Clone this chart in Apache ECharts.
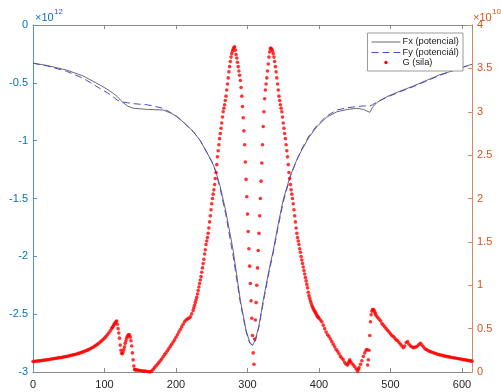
<!DOCTYPE html>
<html>
<head>
<meta charset="utf-8">
<script src="https://cdn.jsdelivr.net/npm/echarts@6/dist/echarts.min.js"></script>
<style>
  html, body { margin: 0; padding: 0; background: #fff; }
  #chart { width: 501px; height: 392px; }
</style>
</head>
<body>
<div id="chart"></div>
<script>
// Potentials Fx, Fy (left axis, x 1e12) and force G (right axis, x 1e10)

const xMax = 614;

// Fx (potencial) — [x, value in 1e12]
const fxPoints = [
  [0,-0.33],[20,-0.35],[47,-0.39],[70,-0.44],[94,-0.52],[105,-0.56],[112,-0.59],[118,-0.62],
  [124,-0.66],[132,-0.70],[140,-0.72],[160,-0.73],[182,-0.735],[192,-0.76],[201,-0.79],[212,-0.85],
  [224,-0.92],[234,-1.0],[243,-1.10],[250,-1.18],[255,-1.25],[262,-1.40],[270,-1.62],[280,-1.95],
  [290,-2.38],[298,-2.64],[303,-2.74],[307,-2.77],[311,-2.72],[316,-2.6],[322,-2.38],[330,-2.12],
  [336,-1.95],[343,-1.72],[350,-1.51],[360,-1.3],[368,-1.18],[376,-1.08],[386,-0.97],[397,-0.88],
  [410,-0.80],[425,-0.75],[440,-0.73],[453,-0.72],[462,-0.73],[471,-0.755],[475,-0.71],[481,-0.67],
  [495,-0.62],[510,-0.58],[531,-0.53],[550,-0.48],[569,-0.43],[590,-0.39],[611,-0.345],[614,-0.34]
];

// Fy (potenciál) — [x, value in 1e12]
const fyPoints = [
  [0,-0.33],[20,-0.355],[47,-0.40],[70,-0.46],[94,-0.55],[105,-0.59],[112,-0.62],[118,-0.65],
  [124,-0.665],[132,-0.672],[140,-0.68],[160,-0.69],[182,-0.72],[192,-0.755],[201,-0.79],[212,-0.85],
  [224,-0.92],[234,-1.0],[243,-1.10],[250,-1.18],[255,-1.26],[262,-1.42],[270,-1.65],[280,-2.0],
  [290,-2.40],[298,-2.65],[303,-2.75],[307,-2.77],[311,-2.73],[316,-2.61],[322,-2.40],[330,-2.14],
  [336,-1.97],[343,-1.74],[350,-1.53],[360,-1.31],[368,-1.18],[376,-1.07],[386,-0.96],[397,-0.87],
  [410,-0.79],[425,-0.735],[440,-0.715],[453,-0.705],[462,-0.70],[471,-0.70],[475,-0.69],[481,-0.665],
  [495,-0.625],[510,-0.585],[531,-0.535],[550,-0.485],[569,-0.435],[590,-0.39],[611,-0.345],[614,-0.34]
];

// G (sila) — [x, value in 1e10]
const gLeftTail = [
  [0,.120],[2,.122],[4,.124],[6,.126],[8,.128],[10,.130],[12,.132],[14,.134],[16,.137],[18,.139],
  [20,.142],[22,.144],[24,.147],[26,.150],[28,.152],[30,.155],[32,.158],[34,.160],[36,.163],[38,.165],
  [40,.168],[42,.171],[44,.175],[46,.178],[48,.181],[50,.185],[52,.189],[54,.193],[56,.197],[58,.201],
  [60,.205],[62,.210],[64,.215],[66,.220],[68,.226],[70,.232],[72,.238],[74,.245],[76,.252],[78,.260],
  [80,.268],[82,.277],[84,.286],[86,.296],[88,.307],[90,.318],[92,.331],[94,.345],[96,.359],[98,.374],
  [100,.390],[102,.408],[104,.428],[106,.450],[108,.474],[110,.500]
];
const gFirstBumps = [
  [111,.513],[112,.527],[113,.541],[114,.555],[115,.568],[116,.580],[117,.588],[118,.55],[119,.50],
  [120,.45],[121,.39],[122,.31],[123,.25],[124,.215],[125,.21],[126,.23],[127,.26],[128,.29],[129,.33],
  [130,.36],[131,.39],[132,.41],[133,.425],[134,.43],[135,.425],[136,.40],[137,.36],[138,.30],[139,.22],
  [140,.14],[141,.07],[142,.03],[143,.025]
];
const gLowRise = [
  [144,.024],[146,.022],[148,.020],[150,.018],[152,.015],[154,.012],[156,.010],[158,.008],[160,.005],
  [162,.003],[164,.002],[166,.010],[168,.030],[170,.050],[172,.070],[174,.090],[176,.110],[178,.130],
  [180,.150],[182,.175],[184,.200],[186,.220],[188,.245],[190,.270],[192,.295],[194,.320],[196,.345],
  [198,.370],[200,.400],[202,.430],[204,.460],[206,.490],[208,.520],[210,.550],[212,.580],[214,.600],
  [216,.610],[218,.620],[220,.635],[222,.670],[224,.710]
];
const gCentralPeaks = [
  [225,.74],[226,.77],[227,.80],[228,.83],[229,.86],[230,.90],[231,.94],[232,.98],[233,1.02],[234,1.06],
  [235,1.10],[236,1.15],[237,1.20],[238,1.25],[239,1.30],[240,1.36],[241,1.41],[242,1.47],[243,1.51],
  [244,1.55],[245,1.60],[246,1.66],[247,1.73],[248,1.80],[249,1.87],[250,1.94],[251,2.00],[252,2.05],
  [253,2.10],[254,2.16],[255,2.23],[256,2.30],[257,2.39],[258,2.48],[259,2.55],[260,2.62],[261,2.69],
  [262,2.75],[263,2.81],[264,2.87],[265,2.94],[266,3.00],[267,3.04],[268,3.08],[269,3.13],[270,3.18],
  [271,3.25],[272,3.32],[273,3.39],[274,3.46],[275,3.52],[276,3.58],[277,3.63],[278,3.67],[279,3.70],
  [280,3.72],[281,3.74],[282,3.75],[283,3.71],[284,3.66],[285,3.62],[286,3.57],[287,3.52],[288,3.47],
  [289,3.42],[290,3.36],[291,3.28],[292,3.18],[293,3.06],[294,2.93],[295,2.78],[296,2.62],[297,2.42],
  [298,2.22],[299,2.02],[300,1.82],[301,1.62],[302,1.42],[303,1.22],[304,1.02],[305,0.82],[306,0.62],
  [307,0.42],[308,0.22],[309,0.09],[310,0.38],[311,0.60],[312,0.80],[313,1.00],[314,1.20],[315,1.40],
  [316,1.60],[317,1.80],[318,2.00],[319,2.20],[320,2.41],[321,2.62],[322,2.83],[323,3.00],[324,3.15],
  [325,3.25],[326,3.32],[327,3.39],[328,3.47],[329,3.55],[330,3.63],[331,3.69],[332,3.73],[333,3.73]
];
const gRightFall = [
  [334,3.72],[335,3.70],[336,3.67],[337,3.63],[338,3.58],[339,3.52],[340,3.46],[341,3.39],[342,3.32],
  [343,3.25],[344,3.18],[345,3.13],[346,3.08],[347,3.04],[348,3.00],[349,2.94],[350,2.87],[351,2.81],
  [352,2.75],[353,2.69],[354,2.62],[355,2.55],[356,2.48],[357,2.39],[358,2.30],[359,2.23],[360,2.16],
  [361,2.10],[362,2.05],[363,2.00],[364,1.94],[365,1.87],[366,1.80],[367,1.73],[368,1.66],[369,1.60],
  [370,1.55],[371,1.51],[372,1.47],[373,1.42],[374,1.38],[375,1.33],[376,1.29],[377,1.25],[378,1.21],
  [379,1.17],[380,1.13],[381,1.09],[382,1.05],[383,1.01],[384,0.97],[385,0.92],[386,0.88],[387,0.85],
  [388,0.82],[389,0.795],[390,0.77],[391,0.75],[392,0.73],[393,0.715],[394,0.70],[395,0.685],[396,0.67],
  [397,0.655],[398,0.64],[399,0.63],[400,0.62]
];
const gRightBump = [
  [402,.60],[404,.58],[406,.54],[408,.50],[410,.46],[412,.43],[414,.41],[416,.38],[418,.35],[420,.32],
  [422,.29],[424,.26],[426,.24],[428,.21],[430,.18],[432,.16],[434,.14],[436,.11],[438,.09],[440,.08],
  [441,.10],[442,.12],[443,.14],[444,.12],[446,.10],[448,.08],[450,.06],[452,.035],[454,.01],[455,.03],
  [456,.05],[458,.09],[460,.13],[462,.18],[464,.22],[466,.25],[467,.26],[468,.08],[469,.14],[470,.25],
  [471,.42],[472,.58],[473,.66],[474,.70],[475,.72],[476,.72],[477,.71],[478,.69],[479,.67],[480,.65]
];
const gRightTail = [
  [482,.63],[484,.61],[486,.59],[488,.56],[490,.54],[492,.52],[494,.50],[496,.48],[498,.46],[500,.44],
  [502,.42],[504,.41],[506,.39],[508,.37],[510,.36],[512,.34],[514,.32],[516,.30],[518,.28],[520,.30],
  [522,.34],[524,.35],[526,.32],[528,.30],[530,.29],[532,.28],[534,.285],[536,.29],[538,.30],[540,.32],
  [542,.33],[544,.31],[546,.29],[548,.27],[550,.26],[552,.25],[554,.24],[556,.235],[558,.228],[560,.222],
  [562,.216],[564,.21],[566,.205],[568,.20],[570,.196],[572,.192],[574,.188],[576,.184],[578,.18],
  [580,.177],[582,.174],[584,.17],[586,.167],[588,.164],[590,.161],[592,.158],[594,.155],[596,.152],
  [598,.149],[600,.146],[602,.143],[604,.14],[606,.137],[608,.134],[610,.131],[612,.128],[614,.125]
];

const gPoints = [].concat(gLeftTail, gFirstBumps, gLowRise, gCentralPeaks, gRightFall, gRightBump, gRightTail);

const legendNames = ['Fx (potencial)', 'Fy (potenciál)', 'G (sila)'];

const FONT = 'Liberation Sans, Arial, Helvetica, sans-serif';
const BLUE = '#0072BD';
const ORANGE = '#D95319';
const FX_COLOR = '#6b6b6b';
const FY_COLOR = '#4a4ad6';
const G_COLOR = '#ff0000';

const chart = echarts.init(document.getElementById('chart'), null, { renderer: 'canvas' });

const G = { left: 33, right: 29, top: 25, bottom: 20 };
const legendBox = { x: 367.5, y: 33, w: 95.5, h: 38 };

chart.setOption({
  animation: false,
  backgroundColor: '#ffffff',
  grid: { left: G.left, right: G.right, top: G.top, bottom: G.bottom, containLabel: false },
  xAxis: [
    {
      type: 'value', min: 0, max: xMax, interval: 100, position: 'bottom',
      axisLine: { show: true, onZero: false, lineStyle: { color: '#8a8a8a', width: 1 } },
      axisTick: { show: true, inside: true, length: 4, lineStyle: { color: '#8a8a8a' } },
      axisLabel: { color: '#262626', fontFamily: FONT, fontSize: 11, margin: 7,
                   showMaxLabel: false },
      splitLine: { show: false }
    },
    {
      type: 'value', min: 0, max: xMax, interval: 100, position: 'top',
      axisLine: { show: true, onZero: false, lineStyle: { color: '#8a8a8a', width: 1 } },
      axisTick: { show: true, inside: true, length: 4, lineStyle: { color: '#8a8a8a' } },
      axisLabel: { show: false },
      splitLine: { show: false }
    }
  ],
  yAxis: [
    {
      type: 'value', min: -3, max: 0, interval: 0.5, position: 'left',
      axisLine: { show: true, onZero: false, lineStyle: { color: '#4a95cc', width: 1 } },
      axisTick: { show: true, inside: true, length: 4, lineStyle: { color: '#4a95cc' } },
      axisLabel: { color: BLUE, fontFamily: FONT, fontSize: 11, margin: 5 },
      splitLine: { show: false }
    },
    {
      type: 'value', min: 0, max: 4, interval: 0.5, position: 'right',
      axisLine: { show: true, onZero: false, lineStyle: { color: '#d98a60', width: 1 } },
      axisTick: { show: true, inside: true, length: 4, lineStyle: { color: '#d98a60' } },
      axisLabel: { color: ORANGE, fontFamily: FONT, fontSize: 11, margin: 5 },
      splitLine: { show: false }
    }
  ],
  series: [
    {
      name: legendNames[0], type: 'line', xAxisIndex: 0, yAxisIndex: 0,
      data: fxPoints, showSymbol: false, symbol: 'none',
      lineStyle: { color: FX_COLOR, width: 1 }, z: 3
    },
    {
      name: legendNames[1], type: 'line', xAxisIndex: 0, yAxisIndex: 0,
      data: fyPoints, showSymbol: false, symbol: 'none',
      lineStyle: { color: FY_COLOR, width: 1, type: [7, 4] }, z: 3
    },
    {
      name: legendNames[2], type: 'scatter', xAxisIndex: 0, yAxisIndex: 1,
      data: gPoints, symbol: 'circle', symbolSize: 3.6,
      itemStyle: { color: G_COLOR }, z: 4
    }
  ],
  graphic: [
    // axis exponent labels
    { type: 'text', left: 35, top: 12, z: 50,
      style: { text: '×10', fill: BLUE, font: '11px ' + FONT } },
    { type: 'text', left: 54, top: 8, z: 50,
      style: { text: '12', fill: BLUE, font: '8px ' + FONT } },
    { type: 'text', left: 473, top: 12, z: 50,
      style: { text: '×10', fill: ORANGE, font: '11px ' + FONT } },
    { type: 'text', left: 492, top: 8, z: 50,
      style: { text: '10', fill: ORANGE, font: '8px ' + FONT } },
    // legend
    { type: 'rect', z: 60,
      shape: { x: legendBox.x, y: legendBox.y, width: legendBox.w, height: legendBox.h },
      style: { fill: '#ffffff', stroke: '#9a9a9a', lineWidth: 1 } },
    { type: 'line', z: 61,
      shape: { x1: legendBox.x + 4, y1: legendBox.y + 9, x2: legendBox.x + 33, y2: legendBox.y + 9 },
      style: { stroke: FX_COLOR, lineWidth: 1 } },
    { type: 'line', z: 61,
      shape: { x1: legendBox.x + 4, y1: legendBox.y + 19.5, x2: legendBox.x + 33, y2: legendBox.y + 19.5 },
      style: { stroke: FY_COLOR, lineWidth: 1, lineDash: [7, 4] } },
    { type: 'circle', z: 61,
      shape: { cx: legendBox.x + 18.5, cy: legendBox.y + 29.5, r: 1.7 },
      style: { fill: G_COLOR } },
    { type: 'text', z: 61, left: legendBox.x + 35, top: legendBox.y + 4,
      style: { text: legendNames[0], fill: '#1a1a1a', font: '9.3px ' + FONT } },
    { type: 'text', z: 61, left: legendBox.x + 35, top: legendBox.y + 14.5,
      style: { text: legendNames[1], fill: '#1a1a1a', font: '9.3px ' + FONT } },
    { type: 'text', z: 61, left: legendBox.x + 35, top: legendBox.y + 24.5,
      style: { text: legendNames[2], fill: '#1a1a1a', font: '9.3px ' + FONT } }
  ]
});
</script>
</body>
</html>
